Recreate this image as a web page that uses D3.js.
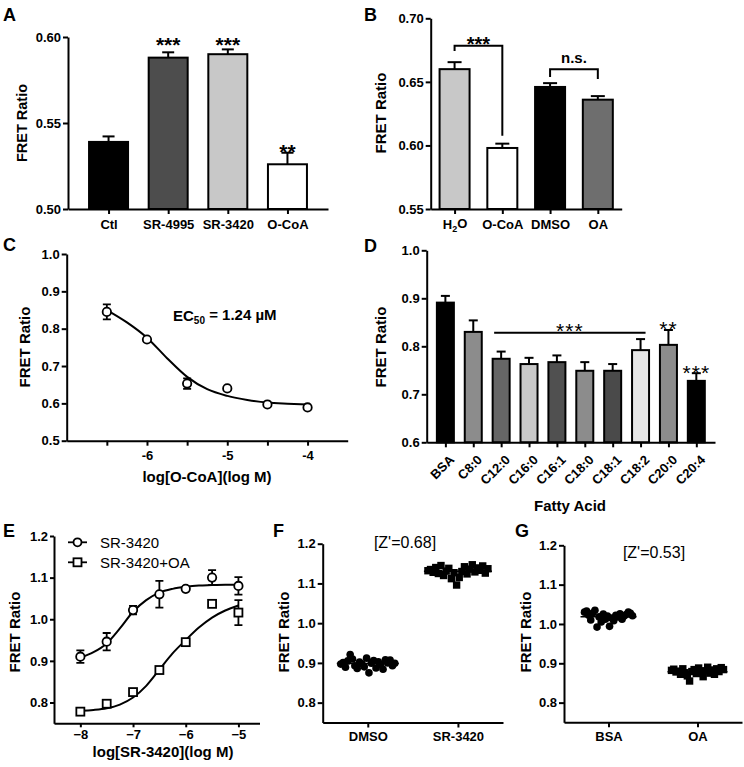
<!DOCTYPE html>
<html><head><meta charset="utf-8">
<script src="https://cdn.jsdelivr.net/npm/d3@7"></script>
<style>
body{margin:0;background:#fff;}
svg text{font-family:"Liberation Sans",Arial,Helvetica,sans-serif;}
</style></head><body>
<svg id="fig" width="744" height="767"></svg>
<script>
// ---------------- DATA ----------------
// Panel A
const aCategories = ["Ctl","SR-4995","SR-3420","O-CoA"];
const aValues = [0.539, 0.588, 0.590, 0.526];
const aErrors = [0.0032, 0.0031, 0.0028, 0.0067];
const aColors = ["#000000","#4d4d4d","#c8c8c8","#ffffff"];
const aStars = [{cat:"SR-4995",label:"***",y:0.5963},{cat:"SR-3420",label:"***",y:0.5963},{cat:"O-CoA",label:"**",y:0.5343}];
const aYTicks = [0.50,0.55,0.60];

// Panel B
const bCategories = ["H2O","O-CoA","DMSO","OA"];
const bValues = [0.660, 0.598, 0.646, 0.636];
const bErrors = [0.0055, 0.0034, 0.0030, 0.0028];
const bColors = ["#c8c8c8","#ffffff","#000000","#6e6e6e"];
const bBrackets = [
  {from:"H2O", to:"O-CoA", top:0.6785, leftEnd:0.6743, rightEnd:0.6077, label:"***"},
  {from:"DMSO", to:"OA", top:0.6599, leftEnd:0.6539, rightEnd:0.6523, label:"n.s."}
];
const bYTicks = [0.55,0.60,0.65,0.70];

// Panel C
const cLogConc = [-6.5,-6,-5.5,-5,-4.5,-4];
const cValues = [0.845,0.771,0.653,0.640,0.597,0.589];
const cErrors = [0.020,0.000,0.014,0.000,0.000,0.000];
const cFitX = [-6.5,-6.25,-6,-5.75,-5.5,-5.25,-5,-4.75,-4.5,-4.25,-4];
const cFitY = [0.850,0.817,0.776,0.721,0.671,0.638,0.620,0.609,0.602,0.599,0.597];
const cXTicks = [-6.5,-6,-5.5,-5,-4.5,-4];
const cXTickLabels = {"-6":"-6","-5":"-5","-4":"-4"};
const cYTicks = [0.5,0.6,0.7,0.8,0.9,1.0];

// Panel D
const dCategories = ["BSA","C8:0","C12:0","C16:0","C16:1","C18:0","C18:1","C18:2","C20:0","C20:4"];
const dValues = [0.891,0.830,0.774,0.763,0.767,0.749,0.749,0.792,0.803,0.728];
const dErrors = [0.014,0.024,0.015,0.013,0.014,0.018,0.014,0.023,0.031,0.016];
const dColors = ["#000000","#8c8c8c","#666666","#c8c8c8","#505050","#8c8c8c","#4a4a4a","#e6e6e6","#8c8c8c","#000000"];
const dSigLine = {from:"C12:0", to:"C18:2", y:0.828, label:"***"};
const dStars = [{cat:"C20:0",label:"**",y:0.839},{cat:"C20:4",label:"***",y:0.748}];
const dYTicks = [0.6,0.7,0.8,0.9,1.0];

// Panel E
const eLogConc = [-8,-7.5,-7,-6.5,-6,-5.5,-5];
const eSR = [0.910,0.946,1.022,1.060,1.073,1.100,1.080];
const eSRErr = [0.015,0.021,0.010,0.032,0.004,0.018,0.021];
const eOA = [0.778,0.797,0.825,0.878,0.945,1.037,1.016];
const eOAErr = [0.003,0.004,0.004,0.004,0.004,0.005,0.030];
const eFitX = [-8,-7.75,-7.5,-7.25,-7,-6.75,-6.5,-6.25,-6,-5.75,-5.5,-5.25,-5];
const eSRFit = [0.908,0.921,0.942,0.978,1.018,1.046,1.064,1.073,1.078,1.081,1.082,1.083,1.083];
const eOAFit = [0.780,0.782,0.786,0.795,0.812,0.840,0.879,0.918,0.950,0.980,1.004,1.021,1.033];
const eXTicks = [-8,-7,-6,-5];
const eYTicks = [0.8,0.9,1.0,1.1,1.2];
const eSeriesNames = ["SR-3420","SR-3420+OA"];

// Panel F
const fCategories = ["DMSO","SR-3420"];
const fDMSO = [0.897,0.901,0.889,0.905,0.921,0.910,0.893,0.886,0.902,0.898,0.890,0.912,0.875,0.899,0.906,0.887,0.903,0.895,0.884,0.908,0.900,0.907,0.893,0.899];
const fSR = [1.132,1.135,1.128,1.140,1.125,1.145,1.120,1.131,1.138,1.112,1.127,1.096,1.115,1.130,1.142,1.124,1.136,1.147,1.129,1.139,1.133,1.144,1.126,1.137];
const fZ = "[Z'=0.68]";

// Panel G
const gCategories = ["BSA","OA"];
const gBSA = [1.030,1.033,1.022,1.010,1.028,1.035,0.992,1.018,1.005,1.025,1.012,1.020,0.994,1.015,1.008,1.022,1.018,1.026,1.012,1.020,1.024,1.030,1.027,1.021];
const gOA = [0.882,0.885,0.878,0.880,0.872,0.886,0.876,0.868,0.855,0.879,0.884,0.874,0.888,0.877,0.866,0.881,0.890,0.875,0.883,0.872,0.886,0.879,0.889,0.884];
const gZ = "[Z'=0.53]";
const scatterYTicks = [0.8,0.9,1.0,1.1,1.2];

// ---------------- DRAWING ----------------
const svg = d3.select("#fig");
const FONT = '"Liberation Sans", Arial, Helvetica, sans-serif';
const TICKFS = 13;

function styleAxis(g, fs){
  g.select(".domain").attr("stroke","#000").attr("stroke-width",2);
  g.selectAll(".tick line").attr("stroke","#000").attr("stroke-width",2);
  g.selectAll(".tick text").attr("fill","#000").attr("font-size",fs||TICKFS)
   .attr("font-weight","bold").attr("font-family",FONT);
  return g;
}
function yAxis(x0, y, ticks, fmt, size, pad){
  return styleAxis(svg.append("g").attr("transform",`translate(${x0},0)`)
    .call(d3.axisLeft(y).tickValues(ticks).tickFormat(fmt).tickSize(size).tickSizeOuter(0).tickPadding(pad)));
}
function xAxis(y0, x, ticks, fmt, size, pad){
  const ax = d3.axisBottom(x).tickSize(size).tickSizeOuter(0).tickPadding(pad);
  if (ticks) ax.tickValues(ticks);
  if (fmt) ax.tickFormat(fmt);
  return styleAxis(svg.append("g").attr("transform",`translate(0,${y0})`).call(ax));
}
function panelLabel(t,x,y){
  svg.append("text").attr("x",x).attr("y",y).text(t).attr("font-size",18)
    .attr("font-weight","bold").attr("font-family",FONT);
}
function yTitle(t,x,y,fs){
  svg.append("text").attr("transform",`translate(${x},${y}) rotate(-90)`)
    .attr("text-anchor","middle").attr("dy","0.35em").text(t)
    .attr("font-size",fs||15).attr("font-weight","bold").attr("font-family",FONT);
}
function xTitle(t,x,y,fs){
  svg.append("text").attr("x",x).attr("y",y).attr("text-anchor","middle").text(t)
    .attr("font-size",fs||15).attr("font-weight","bold").attr("font-family",FONT);
}
function drawBars(x,y,cats,vals,errs,colors,bw,cw){
  const g = svg.append("g");
  const rows = cats.map((c,i)=>({c, v:vals[i], e:errs[i], col:colors[i]}));
  const base = y.range()[0];
  g.selectAll("line.err").data(rows).join("line").attr("class","err")
    .attr("x1",d=>x(d.c)).attr("x2",d=>x(d.c)).attr("y1",d=>y(d.v)).attr("y2",d=>y(d.v+d.e))
    .attr("stroke","#000").attr("stroke-width",2);
  g.selectAll("line.cap").data(rows).join("line").attr("class","cap")
    .attr("x1",d=>x(d.c)-cw/2).attr("x2",d=>x(d.c)+cw/2).attr("y1",d=>y(d.v+d.e)).attr("y2",d=>y(d.v+d.e))
    .attr("stroke","#000").attr("stroke-width",2);
  g.selectAll("rect").data(rows).join("rect")
    .attr("x",d=>x(d.c)-bw/2).attr("y",d=>y(d.v)).attr("width",bw).attr("height",d=>base-y(d.v))
    .attr("fill",d=>d.col).attr("stroke","#000").attr("stroke-width",2);
}
function stars(x,y,list,fs,weight,spacing){
  svg.append("g").selectAll("text").data(list).join("text")
    .attr("x",d=>x(d.cat)).attr("y",d=>y(d.y)+fs*0.42).attr("text-anchor","middle")
    .attr("font-size",fs).attr("font-weight",weight).attr("letter-spacing",spacing||0)
    .attr("font-family",FONT).text(d=>d.label);
}

// ----- Panel A -----
(function(){
  const x = d3.scalePoint().domain(aCategories).range([68,328]).padding(0.68);
  const y = d3.scaleLinear().domain([0.5,0.6]).range([209,37]);
  drawBars(x,y,aCategories,aValues,aErrors,aColors,39,12);
  yAxis(68,y,aYTicks,d3.format(".2f"),5,2);
  xAxis(209,x,null,null,5,6);
  stars(x,y,aStars,21,"bold");
  yTitle("FRET Ratio",22,123,14.5);
  panelLabel("A",3,21);
})();

// ----- Panel B -----
(function(){
  const x = d3.scalePoint().domain(bCategories).range([430.7,621.7]).padding(0.5);
  const y = d3.scaleLinear().domain([0.55,0.70]).range([209,18.3]);
  drawBars(x,y,bCategories,bValues,bErrors,bColors,30,14);
  yAxis(430.7,y,bYTicks,d3.format(".2f"),5,2);
  const ax = xAxis(209,x,null,null,5,6);
  ax.selectAll(".tick text").filter(d=>d==="H2O").each(function(){
    const t = d3.select(this); t.text("");
    t.append("tspan").text("H");
    t.append("tspan").text("2").attr("font-size",9).attr("dy","0.3em");
    t.append("tspan").text("O").attr("dy","-0.3em");
  });
  const bg = svg.append("g");
  bBrackets.forEach(b=>{
    const x1 = x(b.from), x2 = x(b.to);
    bg.append("path").attr("d",`M${x1},${y(b.leftEnd)}V${y(b.top)}H${x2}V${y(b.rightEnd)}`)
      .attr("fill","none").attr("stroke","#000").attr("stroke-width",2);
    const isNs = b.label==="n.s.";
    bg.append("text").attr("x",(x1+x2)/2).attr("y",isNs ? y(b.top)-6 : y(b.top)+5)
      .attr("text-anchor","middle").attr("font-size",isNs?15:20).attr("font-weight","bold")
      .attr("font-family",FONT).text(b.label);
  });
  yTitle("FRET Ratio",381,113,15);
  panelLabel("B",364,21);
})();

// ----- Panel C -----
(function(){
  const x = d3.scaleLinear().domain([-7,-3.5]).range([66.7,347.7]);
  const y = d3.scaleLinear().domain([0.5,1.0]).range([440.7,254]);
  const fit = cFitX.map((v,i)=>[v,cFitY[i]]);
  svg.append("path").datum(fit).attr("fill","none").attr("stroke","#000").attr("stroke-width",2)
    .attr("d",d3.line().x(d=>x(d[0])).y(d=>y(d[1])).curve(d3.curveMonotoneX));
  const pts = cLogConc.map((v,i)=>({x:v,y:cValues[i],e:cErrors[i]}));
  const g = svg.append("g");
  const eb = pts.filter(d=>d.e>0);
  g.selectAll("path.eb").data(eb).join("path").attr("class","eb")
    .attr("d",d=>`M${x(d.x)},${y(d.y-d.e)}V${y(d.y+d.e)}M${x(d.x)-4},${y(d.y-d.e)}h8M${x(d.x)-4},${y(d.y+d.e)}h8`)
    .attr("stroke","#000").attr("stroke-width",1.8).attr("fill","none");
  g.selectAll("circle").data(pts).join("circle").attr("cx",d=>x(d.x)).attr("cy",d=>y(d.y)).attr("r",4.2)
    .attr("fill","#fff").attr("stroke","#000").attr("stroke-width",1.8);
  yAxis(66.7,y,cYTicks,d3.format(".1f"),5,2);
  xAxis(440.7,x,cXTicks,d=>cXTickLabels[String(d)]||"",5,5);
  const t = svg.append("text").attr("x",173).attr("y",321).attr("font-size",15).attr("font-weight","bold").attr("font-family",FONT);
  t.append("tspan").text("EC");
  t.append("tspan").text("50").attr("font-size",10).attr("dy","0.3em");
  t.append("tspan").text(" = 1.24 \u00B5M").attr("dy","-0.3em");
  xTitle("log[O-CoA](log M)",207,482,15);
  yTitle("FRET Ratio",25,347,15);
  panelLabel("C",3,251);
})();

// ----- Panel D -----
(function(){
  const x = d3.scalePoint().domain(dCategories).range([426.7,715]).padding(0.67);
  const y = d3.scaleLinear().domain([0.6,1.0]).range([442.3,250.3]);
  drawBars(x,y,dCategories,dValues,dErrors,dColors,17,9);
  yAxis(426.7,y,dYTicks,d3.format(".1f"),5,2);
  const ax = xAxis(442.3,x,null,null,5,3);
  ax.selectAll(".tick text").attr("x",0).attr("y",0).attr("dy","0.35em")
    .attr("text-anchor","end").attr("transform","translate(6,15) rotate(-45)");
  const x1 = x(dSigLine.from)-7, x2 = x(dSigLine.to)+5;
  svg.append("line").attr("x1",x1).attr("x2",x2).attr("y1",y(dSigLine.y)).attr("y2",y(dSigLine.y))
    .attr("stroke","#000").attr("stroke-width",2);
  svg.append("text").attr("x",(x1+x2)/2).attr("y",y(dSigLine.y)+5).attr("text-anchor","middle")
    .attr("font-size",21).attr("letter-spacing",1).attr("font-family",FONT).text(dSigLine.label);
  stars(x,y,dStars,21,"normal",1);
  xTitle("Fatty Acid",570,511,15);
  yTitle("FRET Ratio",381,347,15);
  panelLabel("D",364,252);
})();

// ----- Panel E -----
(function(){
  const x = d3.scaleLinear().domain([-8.5,-4.6]).range([54,259.5]);
  const y = d3.scaleLinear().domain([0.75,1.2]).range([723.3,536]);
  const line = d3.line().x(d=>x(d[0])).y(d=>y(d[1])).curve(d3.curveMonotoneX);
  [eSRFit,eOAFit].forEach(f=>{
    svg.append("path").datum(eFitX.map((v,i)=>[v,f[i]])).attr("fill","none")
      .attr("stroke","#000").attr("stroke-width",2).attr("d",line);
  });
  const series = [
    {name:eSeriesNames[0], vals:eSR, errs:eSRErr, shape:"circle"},
    {name:eSeriesNames[1], vals:eOA, errs:eOAErr, shape:"square"}
  ];
  series.forEach(s=>{
    const pts = eLogConc.map((v,i)=>({x:v,y:s.vals[i],e:s.errs[i]}));
    const g = svg.append("g");
    g.selectAll("path.eb").data(pts.filter(d=>d.e>0.006)).join("path").attr("class","eb")
      .attr("d",d=>`M${x(d.x)},${y(d.y-d.e)}V${y(d.y+d.e)}M${x(d.x)-4},${y(d.y-d.e)}h8M${x(d.x)-4},${y(d.y+d.e)}h8`)
      .attr("stroke","#000").attr("stroke-width",1.8).attr("fill","none");
    if (s.shape==="circle"){
      g.selectAll("circle").data(pts).join("circle").attr("cx",d=>x(d.x)).attr("cy",d=>y(d.y)).attr("r",4.2)
        .attr("fill","#fff").attr("stroke","#000").attr("stroke-width",1.8);
    } else {
      g.selectAll("rect").data(pts).join("rect").attr("x",d=>x(d.x)-4).attr("y",d=>y(d.y)-4)
        .attr("width",8).attr("height",8).attr("fill","#fff").attr("stroke","#000").attr("stroke-width",1.8);
    }
  });
  yAxis(54,y,eYTicks,d3.format(".1f"),4,2);
  xAxis(723.3,x,eXTicks,d3.format("d"),4,2);
  const lg = svg.append("g");
  series.forEach((s,i)=>{
    const ly = 542.3 + i*20;
    lg.append("line").attr("x1",68).attr("x2",87).attr("y1",ly).attr("y2",ly).attr("stroke","#000").attr("stroke-width",1.8);
    if (s.shape==="circle") lg.append("circle").attr("cx",77.5).attr("cy",ly).attr("r",4).attr("fill","#fff").attr("stroke","#000").attr("stroke-width",1.8);
    else lg.append("rect").attr("x",73.5).attr("y",ly-4).attr("width",8).attr("height",8).attr("fill","#fff").attr("stroke","#000").attr("stroke-width",1.8);
    lg.append("text").attr("x",100).attr("y",ly+5.3).attr("font-size",15).attr("font-family",FONT).text(s.name);
  });
  xTitle("log[SR-3420](log M)",163,757,15);
  yTitle("FRET Ratio",15,632,15);
  panelLabel("E",3,537);
})();

// ----- Scatter panels F, G -----
function scatterPanel(cats, groups, shapes, x0, x1, yRange, halfW, z, zx, zy, tx, lbl, lx){
  const x = d3.scalePoint().domain(cats).range([x0,x1]).padding(0.5);
  const y = d3.scaleLinear().domain([0.75,1.2]).range(yRange);
  const g = svg.append("g");
  groups.forEach((vals,gi)=>{
    const cx = x(cats[gi]), n = vals.length, hw = halfW[gi];
    const pts = vals.map((v,i)=>({x:cx + (i/(n-1)-0.5)*2*hw, y:v}));
    const mean = d3.mean(vals);
    g.append("line").attr("x1",cx-hw-4).attr("x2",cx+hw+4).attr("y1",y(mean)).attr("y2",y(mean))
      .attr("stroke","#000").attr("stroke-width",1.5);
    if (shapes[gi]==="circle"){
      g.selectAll(null).data(pts).join("circle").attr("cx",d=>d.x).attr("cy",d=>y(d.y)).attr("r",3.8).attr("fill","#000");
    } else {
      g.selectAll(null).data(pts).join("rect").attr("x",d=>d.x-3.7).attr("y",d=>y(d.y)-3.7)
        .attr("width",7.4).attr("height",7.4).attr("fill","#000");
    }
  });
  yAxis(x0,y,scatterYTicks,d3.format(".1f"),5,2);
  xAxis(yRange[0],x,null,null,5,4);
  svg.append("text").attr("x",zx).attr("y",zy).attr("text-anchor","middle").attr("font-size",16)
    .attr("font-family",FONT).text(z);
  yTitle("FRET Ratio",tx,632,15);
  panelLabel(lbl,lx,537);
}
scatterPanel(fCategories,[fDMSO,fSR],["circle","square"],322.7,503,[722.5,543.7],[27,30],fZ,405,548,284,"F",273);
scatterPanel(gCategories,[gBSA,gOA],["circle","square"],564,742,[722.3,545.3],[24,26],gZ,654,558,526,"G",515);
</script>
</body></html>
